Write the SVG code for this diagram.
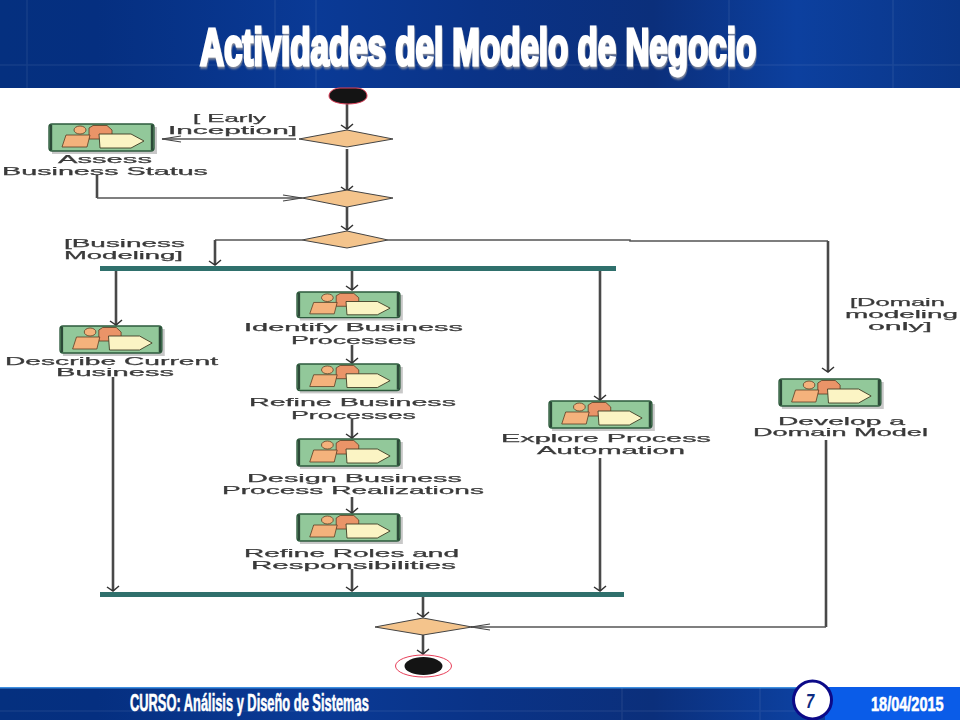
<svg xmlns="http://www.w3.org/2000/svg" width="960" height="720" viewBox="0 0 960 720">
<style>
.lbl{font-family:"Liberation Sans",Arial,sans-serif;font-size:10.5px;fill:#3a3a3a;stroke:#3a3a3a;stroke-width:.25}
.hd{font-family:"Liberation Sans",Arial,sans-serif;font-weight:bold;fill:#fff}
.dia{fill:#f4c48c;stroke:#444;stroke-width:1}
.bar{fill:#2f706c}
.v{fill:none;stroke:#484848;stroke-width:2.6}
.h{fill:none;stroke:#555;stroke-width:1.6}
.grid{stroke:#fff;stroke-opacity:.07;stroke-width:1.5}
</style>
<defs>
<linearGradient id="bg" x1="0" y1="0" x2="1" y2="0">
<stop offset="0" stop-color="#05307f"/><stop offset=".1" stop-color="#052f80"/><stop offset=".33" stop-color="#0a3a96"/><stop offset=".5" stop-color="#0a3387"/><stop offset=".68" stop-color="#0b2f7b"/><stop offset=".83" stop-color="#0c409f"/><stop offset="1" stop-color="#0a3688"/>
</linearGradient>
<filter id="sh" x="-5%" y="-20%" width="110%" height="140%"><feDropShadow dx="1" dy="2" stdDeviation="1" flood-color="#8a8f9c"/></filter>
<filter id="soft" x="-5%" y="-5%" width="110%" height="110%"><feGaussianBlur stdDeviation=".35"/></filter>
<marker id="av" markerUnits="userSpaceOnUse" markerWidth="18" markerHeight="10" refX="8" refY="8" orient="0" viewBox="0 0 16 10"><path d="M2 4L8 8L14 3" fill="none" stroke="#333" stroke-width="1.5"/></marker>
<marker id="al" markerUnits="userSpaceOnUse" markerWidth="24" markerHeight="10" refX="1" refY="5" orient="0" viewBox="0 0 24 10"><path d="M20 2L1 5L20 8" fill="none" stroke="#444" stroke-width="1.2"/></marker>
<marker id="ar" markerUnits="userSpaceOnUse" markerWidth="24" markerHeight="10" refX="23" refY="5" orient="0" viewBox="0 0 24 10"><path d="M4 2L23 5L4 8" fill="none" stroke="#444" stroke-width="1.2"/></marker>
<g id="act">
<rect x="3" y="3" width="105" height="27" fill="#c8c8c8"/>
<rect x="0" y="0" width="105" height="27" rx="3" fill="#92c89a" stroke="#2d5a3c" stroke-width="1.4"/>
<path d="M2 1V26M103 1V26" stroke="#2c4a38" stroke-width="2.4"/>
<ellipse cx="31" cy="6" rx="6" ry="4" fill="#f4b27c" stroke="#5a3b22" stroke-width=".8"/>
<path d="M40 4L44 1.500H58L63 6V15H40Z" fill="#ea9468" stroke="#5a3b22" stroke-width=".8"/>
<path d="M17 11H41L38 23H13Z" fill="#f4b27c" stroke="#5a3b22" stroke-width=".8"/>
<path d="M50 10H82L95 17L82 24H51Z" fill="#fbf4c4" stroke="#3d3a22" stroke-width=".9"/>
</g>
</defs>
<rect width="960" height="720" fill="#fff"/>

<g id="header">
<rect width="960" height="88" fill="url(#bg)"/>
<path class="grid" d="M27 0V88M275 0V88M316 0V88M729 0V88M893 0V88M0 65H960"/>
<text class="hd" transform="translate(200 65) scale(.64 1)" font-size="51" textLength="869" lengthAdjust="spacingAndGlyphs" stroke="#fff" stroke-width="3" filter="url(#sh)">Actividades del Modelo de Negocio</text>
</g>

<g id="footer">
<rect y="687" width="960" height="33" fill="url(#bg)"/>
<rect y="687" width="960" height="1.500" fill="#3f8fe0"/>
<rect x="825" y="687" width="135" height="33" fill="#0a5ce8"/>
<path class="grid" d="M622 688V720M760 688V720M0 711H830"/>
<text class="hd" transform="translate(130 711) scale(.6 1)" font-size="23" textLength="398" lengthAdjust="spacingAndGlyphs" stroke="#fff" stroke-width=".6">CURSO:  Análisis y Diseño de Sistemas</text>
<text class="hd" transform="translate(871 711) scale(.6 1)" font-size="21" textLength="121" lengthAdjust="spacingAndGlyphs" stroke="#fff" stroke-width=".6">18/04/2015</text>
</g>
<g id="page">
<circle cx="812.500" cy="700" r="19" fill="#fff" stroke="#0c0a88" stroke-width="3"/>
<text transform="translate(810 708) scale(.7 1)" font-family="'Liberation Sans',Arial,sans-serif" font-weight="bold" font-style="italic" font-size="21" fill="#0c2a80" text-anchor="middle">7</text>
</g>

<g id="connectors" filter="url(#soft)">
<path class="v" d="M347 103V129" marker-end="url(#av)"/>
<path class="h" d="M296 139H162" marker-end="url(#al)"/>
<path class="v" d="M347 149V191" marker-end="url(#av)"/>
<path class="v" d="M97 175V198"/>
<path class="h" d="M97 198H302" marker-end="url(#ar)"/>
<path class="v" d="M347 207V230" marker-end="url(#av)"/>
<path class="h" d="M302 240H215"/>
<path class="v" d="M215 240V265" marker-end="url(#av)"/>
<path class="h" d="M388 240H630V241H828"/>
<path class="v" d="M828 241V372" marker-end="url(#av)"/>
<path class="v" d="M116 271V325" marker-end="url(#av)"/>
<path class="v" d="M352 271V290" marker-end="url(#av)"/>
<path class="v" d="M600 271V400" marker-end="url(#av)"/>
<path class="v" d="M352 345V363" marker-end="url(#av)"/>
<path class="v" d="M352 419V438" marker-end="url(#av)"/>
<path class="v" d="M352 497V513" marker-end="url(#av)"/>
<path class="v" d="M352 569V591" marker-end="url(#av)"/>
<path class="v" d="M113 377V591" marker-end="url(#av)"/>
<path class="v" d="M600 458V591" marker-end="url(#av)"/>
<path class="v" d="M826 440V627"/>
<path class="h" d="M826 627H471" marker-end="url(#al)"/>
<path class="v" d="M423 597V617" marker-end="url(#av)"/>
<path class="v" d="M423 635V654" marker-end="url(#av)"/>
</g>

<g id="start"><path d="M329 96C329 91 335 88 340 88H356C362 88 367 91 367 96C367 101 358 104 348 104C338 104 329 101 329 96Z" fill="#141414" stroke="#e0405a" stroke-width="1"/></g>
<g id="decision1"><path class="dia" d="M299 139L347 130L393 139L347 147Z"/></g>
<g id="decision2"><path class="dia" d="M302 198L347 190L393 198L347 207Z"/></g>
<g id="decision3"><path class="dia" d="M302 240L347 231L388 240L347 248Z"/></g>
<g id="decision4"><path class="dia" d="M375 627L423 618L472 627L423 635Z"/></g>
<g id="fork"><rect class="bar" x="100" y="266" width="516" height="5"/></g>
<g id="join"><rect class="bar" x="100" y="592" width="524" height="5"/></g>
<g id="end"><ellipse cx="423.500" cy="666" rx="28" ry="11" fill="#fff" stroke="#e8405a" stroke-width="1"/><ellipse cx="423.500" cy="666" rx="19" ry="9" fill="#141414"/></g>

<g id="guard-early" filter="url(#soft)"><text class="lbl" x="193" y="122" textLength="73" lengthAdjust="spacingAndGlyphs">[ Early</text><text class="lbl" x="168" y="134" textLength="129" lengthAdjust="spacingAndGlyphs">Inception]</text></g>
<g id="guard-business" filter="url(#soft)"><text class="lbl" x="64" y="247" textLength="121" lengthAdjust="spacingAndGlyphs">[Business</text><text class="lbl" x="64" y="259" textLength="119" lengthAdjust="spacingAndGlyphs">Modeling]</text></g>
<g id="guard-domain" filter="url(#soft)"><text class="lbl" x="850" y="306" textLength="95" lengthAdjust="spacingAndGlyphs">[Domain</text><text class="lbl" x="845" y="318" textLength="113" lengthAdjust="spacingAndGlyphs">modeling</text><text class="lbl" x="868" y="330" textLength="64" lengthAdjust="spacingAndGlyphs">only]</text></g>

<g id="assess"><use href="#act" x="49" y="124"/><g filter="url(#soft)"><text class="lbl" x="58" y="163" textLength="94" lengthAdjust="spacingAndGlyphs">Assess</text><text class="lbl" x="2" y="174.500" textLength="206" lengthAdjust="spacingAndGlyphs">Business Status</text></g></g>
<g id="describe"><use href="#act" transform="translate(60 326) scale(.97 1)"/><g filter="url(#soft)"><text class="lbl" x="5" y="365" textLength="213" lengthAdjust="spacingAndGlyphs">Describe Current</text><text class="lbl" x="56" y="376" textLength="118" lengthAdjust="spacingAndGlyphs">Business</text></g></g>
<g id="identify"><use href="#act" transform="translate(297 292) scale(.98 .95)"/><g filter="url(#soft)"><text class="lbl" x="244" y="331" textLength="219" lengthAdjust="spacingAndGlyphs">Identify Business</text><text class="lbl" x="291" y="344" textLength="125" lengthAdjust="spacingAndGlyphs">Processes</text></g></g>
<g id="refine"><use href="#act" transform="translate(297 364) scale(.98 .98)"/><g filter="url(#soft)"><text class="lbl" x="249" y="406" textLength="207" lengthAdjust="spacingAndGlyphs">Refine Business</text><text class="lbl" x="291" y="418.500" textLength="125" lengthAdjust="spacingAndGlyphs">Processes</text></g></g>
<g id="design"><use href="#act" transform="translate(297 439) scale(.98 1)"/><g filter="url(#soft)"><text class="lbl" x="247" y="482" textLength="215" lengthAdjust="spacingAndGlyphs">Design Business</text><text class="lbl" x="222" y="493.500" textLength="262" lengthAdjust="spacingAndGlyphs">Process Realizations</text></g></g>
<g id="roles"><use href="#act" transform="translate(297 514) scale(.98 1)"/><g filter="url(#soft)"><text class="lbl" x="244" y="557" textLength="215" lengthAdjust="spacingAndGlyphs">Refine Roles and</text><text class="lbl" x="251" y="568.500" textLength="205" lengthAdjust="spacingAndGlyphs">Responsibilities</text></g></g>
<g id="explore"><use href="#act" transform="translate(549 401) scale(.98 1)"/><g filter="url(#soft)"><text class="lbl" x="501" y="442" textLength="210" lengthAdjust="spacingAndGlyphs">Explore Process</text><text class="lbl" x="537" y="454" textLength="148" lengthAdjust="spacingAndGlyphs">Automation</text></g></g>
<g id="develop"><use href="#act" transform="translate(779 379) scale(.97 1)"/><g filter="url(#soft)"><text class="lbl" x="778" y="425" textLength="127" lengthAdjust="spacingAndGlyphs">Develop a</text><text class="lbl" x="753" y="436" textLength="175" lengthAdjust="spacingAndGlyphs">Domain Model</text></g></g>
</svg>
